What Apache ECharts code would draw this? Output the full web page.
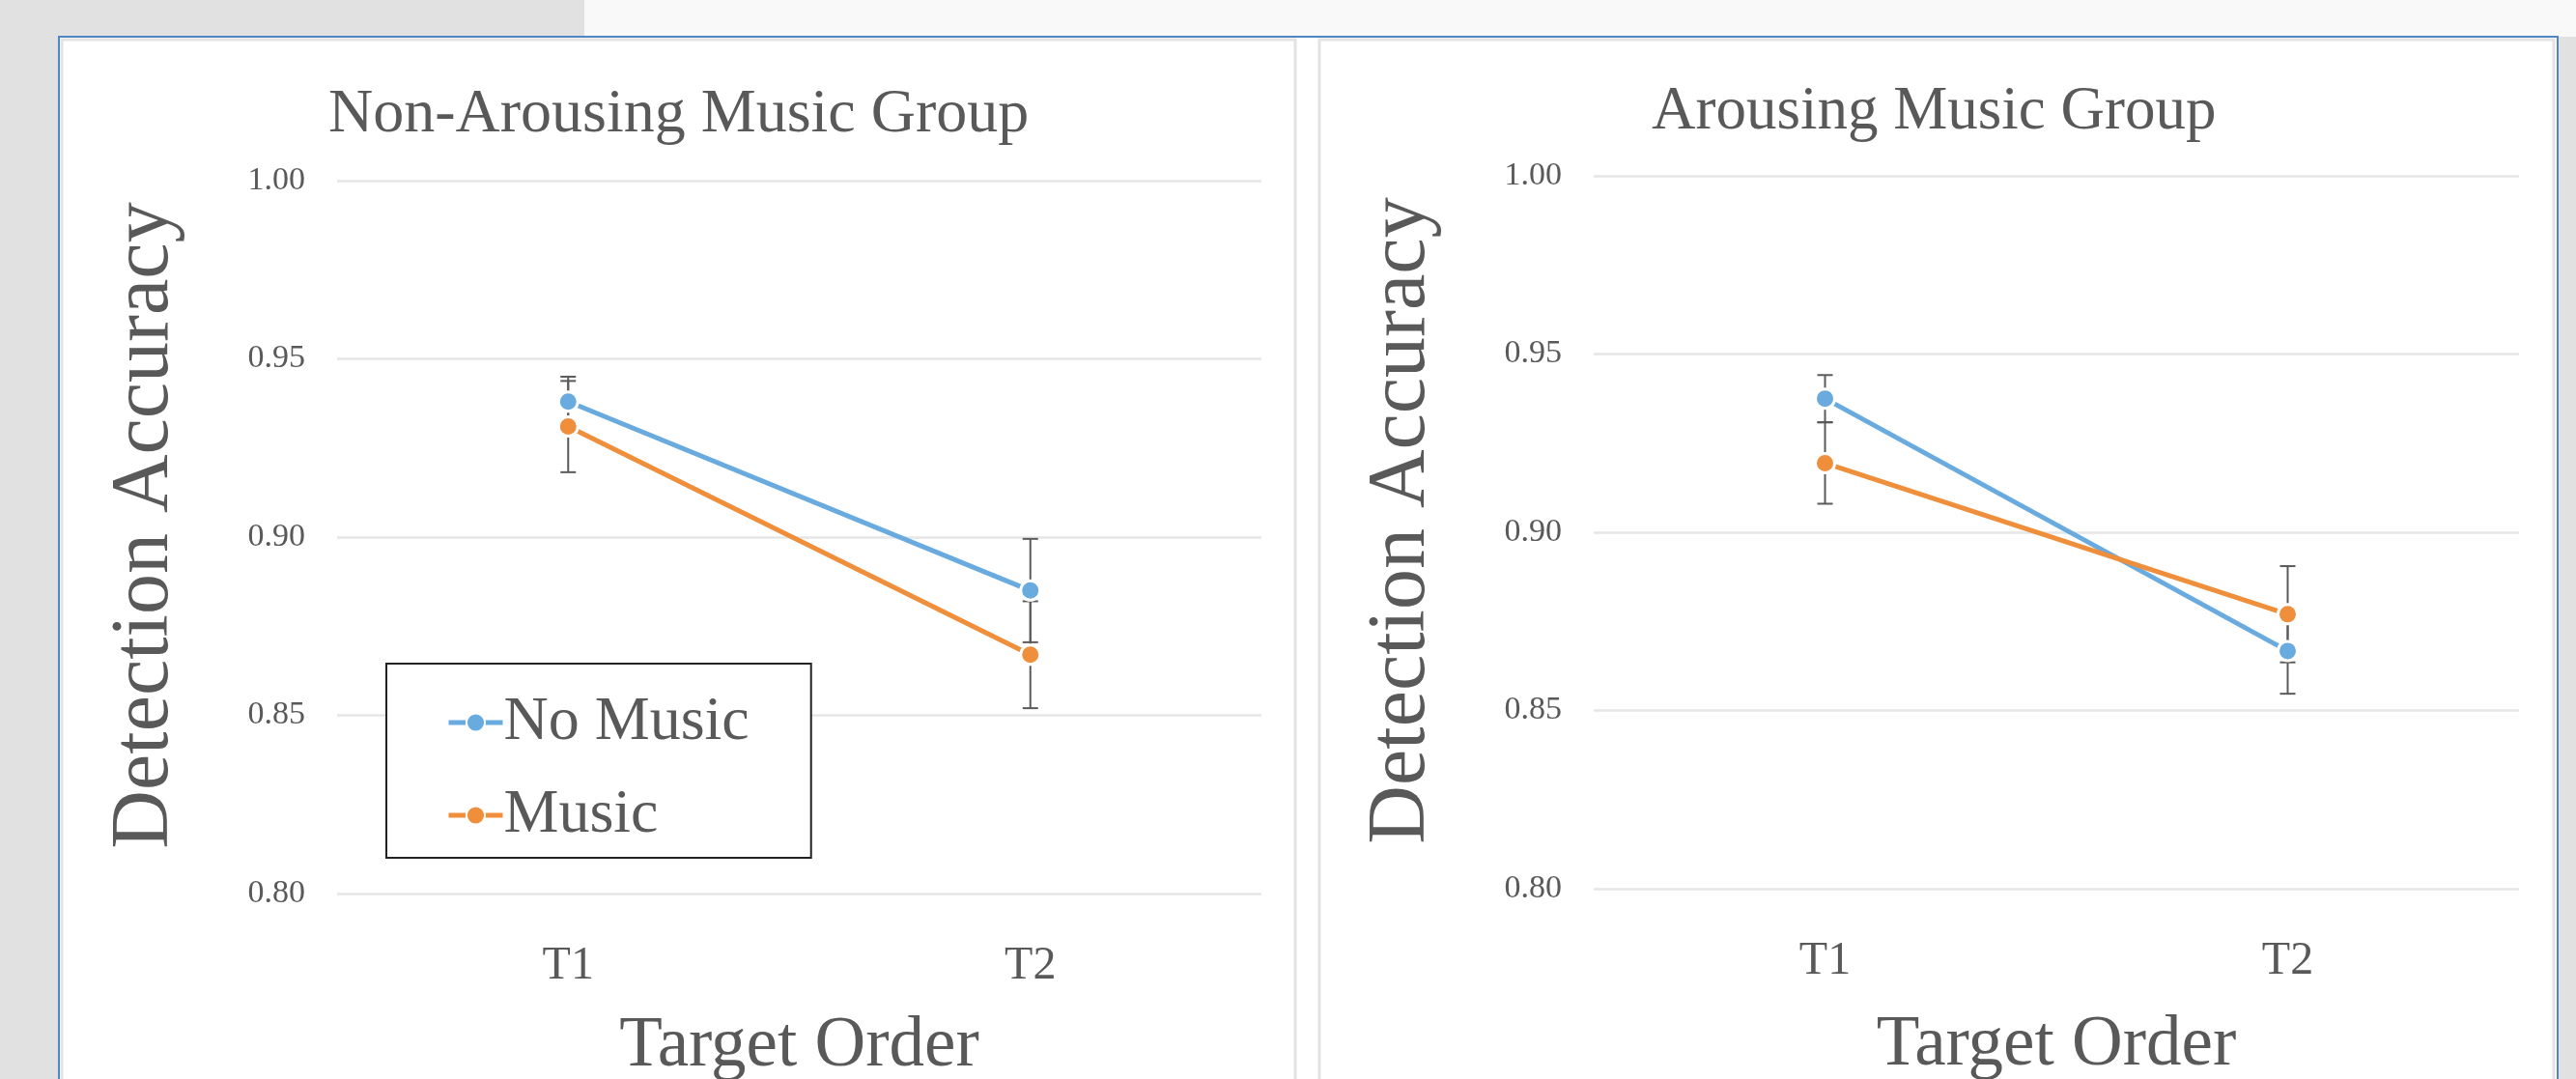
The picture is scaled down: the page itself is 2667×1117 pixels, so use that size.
<!DOCTYPE html>
<html>
<head>
<meta charset="utf-8">
<title>Detection Accuracy by Target Order</title>
<script src="https://cdn.jsdelivr.net/npm/echarts@6/dist/echarts.min.js"></script>
<style>
  html, body { margin: 0; padding: 0; background: #e1e1e1; }
  #chart { width: 2667px; height: 1117px; }
</style>
</head>
<body>
<div id="chart"></div>
<script>
// Target order categories shared by both panels
const categories = ['T1', 'T2'];

// Y axis ticks (detection accuracy)
const yMin = 0.80;
const yMax = 1.00;
const yStep = 0.05;

// Panel titles
const panelTitles = ['Non-Arousing Music Group', 'Arousing Music Group'];
const seriesNames = ['No Music', 'Music'];

// Non-arousing music group: means and error half-widths
const nonArousingNoMusic = [0.938, 0.885];
const nonArousingNoMusicErr = [0.007, 0.0145];
const nonArousingMusic = [0.931, 0.867];
const nonArousingMusicErr = [0.0128, 0.015];

// Arousing music group: means and error half-widths
const arousingNoMusic = [0.9375, 0.8667];
const arousingNoMusicErr = [0.0066, 0.012];
const arousingMusic = [0.9194, 0.877];
const arousingMusicErr = [0.0114, 0.0135];

const BLUE = '#69abdf';
const ORANGE = '#ef8e3b';
const TEXT = '#595959';
const FONT = '"Liberation Serif", "Times New Roman", serif';

const chart = echarts.init(document.getElementById('chart'), null, { renderer: 'canvas' });

// Build [index, mean, err] triples for the error-bar series
function errData(means, errs) {
  return means.map((m, i) => [i, m, errs[i]]);
}

function renderErrorBar(params, api) {
  const idx = api.value(0);
  const mean = api.value(1);
  const err = api.value(2);
  const top = api.coord([idx, mean + err]);
  const bot = api.coord([idx, mean - err]);
  const half = 8;
  const style = { stroke: '#5a5a5a', lineWidth: 2 };
  return {
    type: 'group',
    children: [
      { type: 'line', shape: { x1: top[0], y1: top[1], x2: bot[0], y2: bot[1] }, style },
      { type: 'line', shape: { x1: top[0] - half, y1: top[1], x2: top[0] + half, y2: top[1] }, style },
      { type: 'line', shape: { x1: bot[0] - half, y1: bot[1], x2: bot[0] + half, y2: bot[1] }, style }
    ]
  };
}

function lineSeries(name, data, color, axisIdx) {
  return {
    name: name,
    type: 'line',
    xAxisIndex: axisIdx,
    yAxisIndex: axisIdx,
    data: data,
    z: 3,
    symbol: 'circle',
    symbolSize: 20,
    showSymbol: true,
    lineStyle: { color: color, width: 5 },
    itemStyle: { color: color, borderColor: '#ffffff', borderWidth: 3 },
    emphasis: { disabled: true },
    animation: false
  };
}

function errSeries(data, axisIdx) {
  return {
    type: 'custom',
    xAxisIndex: axisIdx,
    yAxisIndex: axisIdx,
    z: 1,
    data: data,
    renderItem: renderErrorBar,
    animation: false,
    silent: true
  };
}

const grids = [
  { left: 349, top: 187, width: 957, height: 738, outerBoundsMode: 'none', containLabel: false },
  { left: 1650, top: 182, width: 958, height: 738, outerBoundsMode: 'none', containLabel: false }
];

function xAxisFor(i, nameGap) {
  return {
    gridIndex: i,
    type: 'category',
    data: categories,
    boundaryGap: true,
    axisLine: { show: false },
    axisTick: { show: false },
    axisLabel: { color: TEXT, fontFamily: FONT, fontSize: 48, margin: 51 },
    name: 'Target Order',
    nameLocation: 'middle',
    nameGap: nameGap,
    nameTextStyle: { color: TEXT, fontFamily: FONT, fontSize: 73 }
  };
}

function yAxisFor(i) {
  return {
    gridIndex: i,
    type: 'value',
    min: yMin,
    max: yMax,
    interval: yStep,
    axisLine: { show: false },
    axisTick: { show: false },
    axisLabel: {
      color: TEXT, fontFamily: FONT, fontSize: 34, margin: 33,
      formatter: v => v.toFixed(2)
    },
    splitLine: { lineStyle: { color: '#e6e6e6', width: 2.5 } },
    name: 'Detection Accuracy',
    nameLocation: 'middle',
    nameGap: 156,
    nameTextStyle: { color: TEXT, fontFamily: FONT, fontSize: 84, padding: [0, 0, 0, 24] }
  };
}

const option = {
  backgroundColor: '#e1e1e1',
  animation: false,
  graphic: [
    // lighter top band on the right
    { type: 'rect', silent: true, z: -10, shape: { x: 605, y: 0, width: 2062, height: 38 }, style: { fill: '#f9f9f9' } },
    // white sheet inside blue frame
    { type: 'rect', silent: true, z: -9, shape: { x: 61, y: 38, width: 2587, height: 1100 }, style: { fill: '#ffffff', stroke: '#4f86c6', lineWidth: 2 } },
    // panel cards
    { type: 'rect', silent: true, z: -8, shape: { x: 64, y: 41, width: 1277, height: 1100 }, style: { fill: '#ffffff', stroke: '#e3e3e3', lineWidth: 3 } },
    { type: 'rect', silent: true, z: -8, shape: { x: 1366, y: 41, width: 1278, height: 1100 }, style: { fill: '#ffffff', stroke: '#e3e3e3', lineWidth: 3 } }
  ],
  title: [
    {
      text: panelTitles[0], left: 340, top: 87, padding: 0,
      textStyle: { color: TEXT, fontFamily: FONT, fontSize: 64, fontWeight: 'normal' }
    },
    {
      text: panelTitles[1], left: 1710, top: 85, padding: 0,
      textStyle: { color: TEXT, fontFamily: FONT, fontSize: 63, fontWeight: 'normal' }
    }
  ],
  legend: {
    data: seriesNames,
    orient: 'vertical',
    left: 400,
    top: 687,
    padding: [29, 64, 12, 62],
    itemGap: 32,
    itemWidth: 56,
    itemHeight: 24,
    backgroundColor: '#ffffff',
    borderColor: '#222222',
    borderWidth: 2,
    selectedMode: false,
    lineStyle: { width: 5 },
    textStyle: { color: TEXT, fontFamily: FONT, fontSize: 64, padding: [0, 0, 0, -4] }
  },
  grid: grids,
  xAxis: [xAxisFor(0, 122), xAxisFor(1, 126)],
  yAxis: [yAxisFor(0), yAxisFor(1)],
  series: [
    errSeries(errData(nonArousingNoMusic, nonArousingNoMusicErr), 0),
    errSeries(errData(nonArousingMusic, nonArousingMusicErr), 0),
    lineSeries(seriesNames[0], nonArousingNoMusic, BLUE, 0),
    lineSeries(seriesNames[1], nonArousingMusic, ORANGE, 0),
    errSeries(errData(arousingNoMusic, arousingNoMusicErr), 1),
    errSeries(errData(arousingMusic, arousingMusicErr), 1),
    lineSeries(seriesNames[0], arousingNoMusic, BLUE, 1),
    lineSeries(seriesNames[1], arousingMusic, ORANGE, 1)
  ]
};

chart.setOption(option);
</script>
</body>
</html>
